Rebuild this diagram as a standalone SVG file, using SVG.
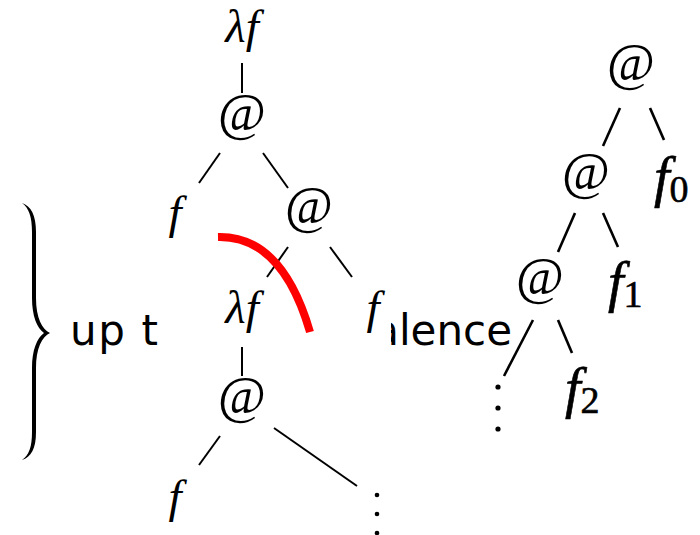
<svg xmlns="http://www.w3.org/2000/svg" width="700" height="535" viewBox="0 0 700 535">
  <style>
    .m { font-family: "Liberation Serif", "DejaVu Serif", serif; font-style: italic; fill: #000; }
    .at { font-family: "Liberation Serif", "DejaVu Serif", serif; font-size: 52px; fill: #000; text-anchor: middle; }
    .lbl { font-size: 47px; text-anchor: middle; }
    .rl { font-size: 56px; stroke: #000; stroke-width: 0.6; }
    .sub { font-style: normal; font-size: 38px; }
    .sans { font-family: "DejaVu Sans", "Liberation Sans", sans-serif; font-size: 42px; fill: #000; }
    .edge { stroke: #000; stroke-width: 2; stroke-linecap: butt; fill: none; }
    .edge2 { stroke: #000; stroke-width: 2.6; stroke-linecap: butt; fill: none; }
  </style>
  <defs>
    <clipPath id="clipTail">
      <rect x="391" y="280" width="200" height="100"/>
    </clipPath>
  </defs>
  <rect width="700" height="535" fill="#fff"/>

  <!-- curly brace (filled, tapering ends) and caption fragments -->
  <path d="M22,203 C31,206 36,215 36,232 L36,298 C36,318 42,329 50,333 C42,337 36,348 36,368 L36,432 C36,449 31,457 22,460 C29,455 32,447 32,432 L32,368 C32,350 37,338 44,333 C37,328 32,316 32,298 L32,232 C32,217 29,208 22,203 Z" fill="#000"/>
  <text class="sans" x="70" y="345" textLength="88">up t</text>
  <text class="sans" x="512" y="345" text-anchor="end" clip-path="url(#clipTail)">alence</text>

  <!-- connectors -->
  <g id="connectors">
    <line class="edge" x1="242" y1="63" x2="242" y2="93"/>
    <line class="edge" x1="220" y1="153" x2="199" y2="183"/>
    <line class="edge" x1="263" y1="153" x2="288" y2="188"/>
    <line class="edge" x1="288" y1="247" x2="267" y2="277"/>
    <line class="edge" x1="330" y1="247" x2="352" y2="277"/>
    <line class="edge" x1="242" y1="347" x2="242" y2="376"/>
    <line class="edge" x1="220" y1="436" x2="199" y2="465"/>
    <line class="edge" x1="274" y1="428" x2="357" y2="486"/>
    <line class="edge2" x1="620" y1="108" x2="603" y2="146"/>
    <line class="edge2" x1="650" y1="108" x2="664" y2="140"/>
    <line class="edge2" x1="575" y1="213" x2="558" y2="252"/>
    <line class="edge2" x1="603" y1="213" x2="618" y2="247"/>
    <line class="edge2" x1="533" y1="320" x2="504" y2="376"/>
    <line class="edge2" x1="558" y1="320" x2="572" y2="353"/>
  </g>

  <!-- upper lambda tree -->
  <g id="lam1"><text class="m lbl" x="242" y="42">λf</text></g>
  <g id="app1"><text class="at" x="242" y="130">@</text></g>
  <g id="f1left"><text class="m lbl" x="175" y="228">f</text></g>
  <g id="app2"><text class="at" x="309" y="223">@</text></g>
  <g id="f1right"><text class="m lbl" x="373" y="323">f</text></g>

  <!-- lower lambda tree -->
  <g id="lam2"><text class="m lbl" x="242" y="323">λf</text></g>
  <g id="app3"><text class="at" x="242" y="413">@</text></g>
  <g id="f2left"><text class="m lbl" x="175" y="512">f</text></g>
  <g id="dots1">
    <circle cx="377" cy="495" r="2.3"/>
    <circle cx="377" cy="514" r="2.3"/>
    <circle cx="377" cy="533" r="2.3"/>
  </g>

  <!-- red cut -->
  <path id="cut" d="M218,237 C262,236 292,270 310,332" fill="none" stroke="#ff0000" stroke-width="8"/>

  <!-- application spine -->
  <g id="spine0"><text class="at" x="631" y="80">@</text></g>
  <g id="arg0"><text class="m rl" x="654" y="196">f<tspan class="sub" dy="6">0</tspan></text></g>
  <g id="spine1"><text class="at" x="586" y="189">@</text></g>
  <g id="arg1"><text class="m rl" x="608" y="301">f<tspan class="sub" dy="6">1</tspan></text></g>
  <g id="spine2"><text class="at" x="540" y="294">@</text></g>
  <g id="arg2"><text class="m rl" x="565" y="407">f<tspan class="sub" dy="6">2</tspan></text></g>
  <g id="dots2">
    <circle cx="498" cy="387" r="2.6"/>
    <circle cx="498" cy="408" r="2.6"/>
    <circle cx="498" cy="429" r="2.6"/>
  </g>
</svg>
